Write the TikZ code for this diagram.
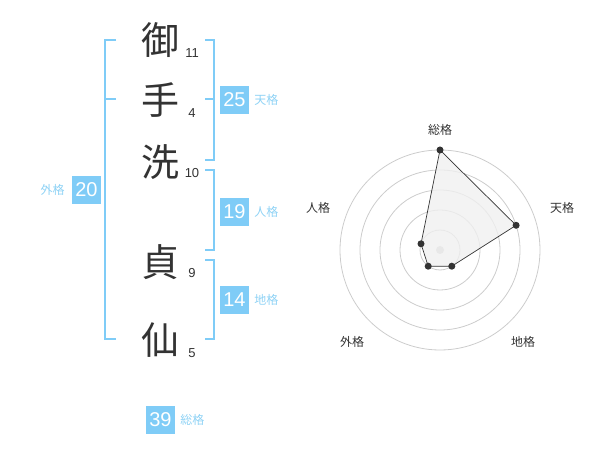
\documentclass[tikz,border=0pt]{standalone}
\usepackage{fontspec}
\setmainfont{Liberation Sans}
\newfontfamily\cjk{Noto Sans CJK JP}
\usepackage{tikz}
\usetikzlibrary{positioning}
\definecolor{kakublue}{HTML}{7FCCF7}
\definecolor{kakutext}{HTML}{8ED2F5}
\definecolor{ink}{HTML}{333333}
\tikzset{>=stealth}
\tikzstyle{bracket} = [draw, 
line width=2pt, 
color=kakublue]

\begin{document}
\begin{tikzpicture}[x=1pt, y=-1pt, inner sep=0pt,
		kanji/.style={font=\cjk\fontsize{38}{38}\selectfont, text=ink},
		stroke/.style={font=\fontsize{13}{13}\selectfont, text=ink},
		score/.style={minimum width=29pt, minimum height=28pt,
			fill=kakublue, text=white, font=\fontsize{20}{20}\selectfont},
		kaku/.style={font=\cjk\fontsize{12}{12}\selectfont, text=kakutext},
		axis/.style={font=\cjk\fontsize{12}{12}\selectfont, text=ink},
		ring/.style={draw=black!20, line width=0.8pt},
		dot/.style={circle, fill=ink, minimum size=7pt}]
		\useasboundingbox (0,0) rectangle (600,470);
		%% Name
		\node [kanji] at (160,40) (mi) {御};
		\node [kanji] at (160,100) (te) {手};
		\node [kanji] at (160,162) (arai) {洗};
		\node [kanji] at (160,262) (sada) {貞};
		\node [kanji] at (160,340) (sen) {仙};
		\node [stroke] at (192,53) (mistroke) {11};
		\node [stroke] at (192,113) (testroke) {4};
		\node [stroke] at (192,173) (araistroke) {10};
		\node [stroke] at (192,273) (sadastroke) {9};
		\node [stroke] at (192,353) (senstroke) {5};
		%% Brackets
		\path [bracket] (116,40) -- (105,40) -- (105,339) -- (116,339);
		\path [bracket] (105,99) -- (116,99);
		\path [bracket] (205,40) -- (214,40) -- (214,160) -- (205,160);
		\path [bracket] (205,99) -- (214,99);
		\path [bracket] (205,170) -- (214,170) -- (214,250) -- (205,250);
		\path [bracket] (205,260) -- (214,260) -- (214,339) -- (205,339);
		%% Scores
		\node [score] at (234.5,100) (ten) {25};
		\node [kaku, right=5pt of ten] (tenlabel) {天格};
		\node [score] at (234.5,212) (jin) {19};
		\node [kaku, right=5pt of jin] (jinlabel) {人格};
		\node [score] at (234.5,300) (chi) {14};
		\node [kaku, right=5pt of chi] (chilabel) {地格};
		\node [score] at (86.5,190) (gai) {20};
		\node [kaku, left=7pt of gai] (gailabel) {外格};
		\node [score] at (160.5,420) (sou) {39};
		\node [kaku, right=5pt of sou] (soulabel) {総格};
		%% Radar
		\coordinate (O) at (440,250);
		\path [ring] (O) circle (20pt);
		\path [ring] (O) circle (40pt);
		\path [ring] (O) circle (60pt);
		\path [ring] (O) circle (80pt);
		\path [ring] (O) circle (100pt);
		\fill [black!20] (O) circle (4pt);
		\coordinate (psou) at (440,150);
		\coordinate (pten) at (516.1,225.3);
		\coordinate (pchi) at (451.8,266.2);
		\coordinate (pgai) at (428.2,266.2);
		\coordinate (pjin) at (421.0,243.8);
		\draw [fill=black!6, fill opacity=0.8, draw=ink, line width=0.7pt]
			(psou) -- (pten) -- (pchi) -- (pgai) -- (pjin) -- cycle;
		\node [dot] at (psou) {};
		\node [dot] at (pten) {};
		\node [dot] at (pchi) {};
		\node [dot] at (pgai) {};
		\node [dot] at (pjin) {};
		\node [axis] at (440,130) (axsou) {総格};
		\node [axis] at (562,208) (axten) {天格};
		\node [axis] at (523,342) (axchi) {地格};
		\node [axis] at (352,342) (axgai) {外格};
		\node [axis] at (318,208) (axjin) {人格};
	\end{tikzpicture}
\end{document}
